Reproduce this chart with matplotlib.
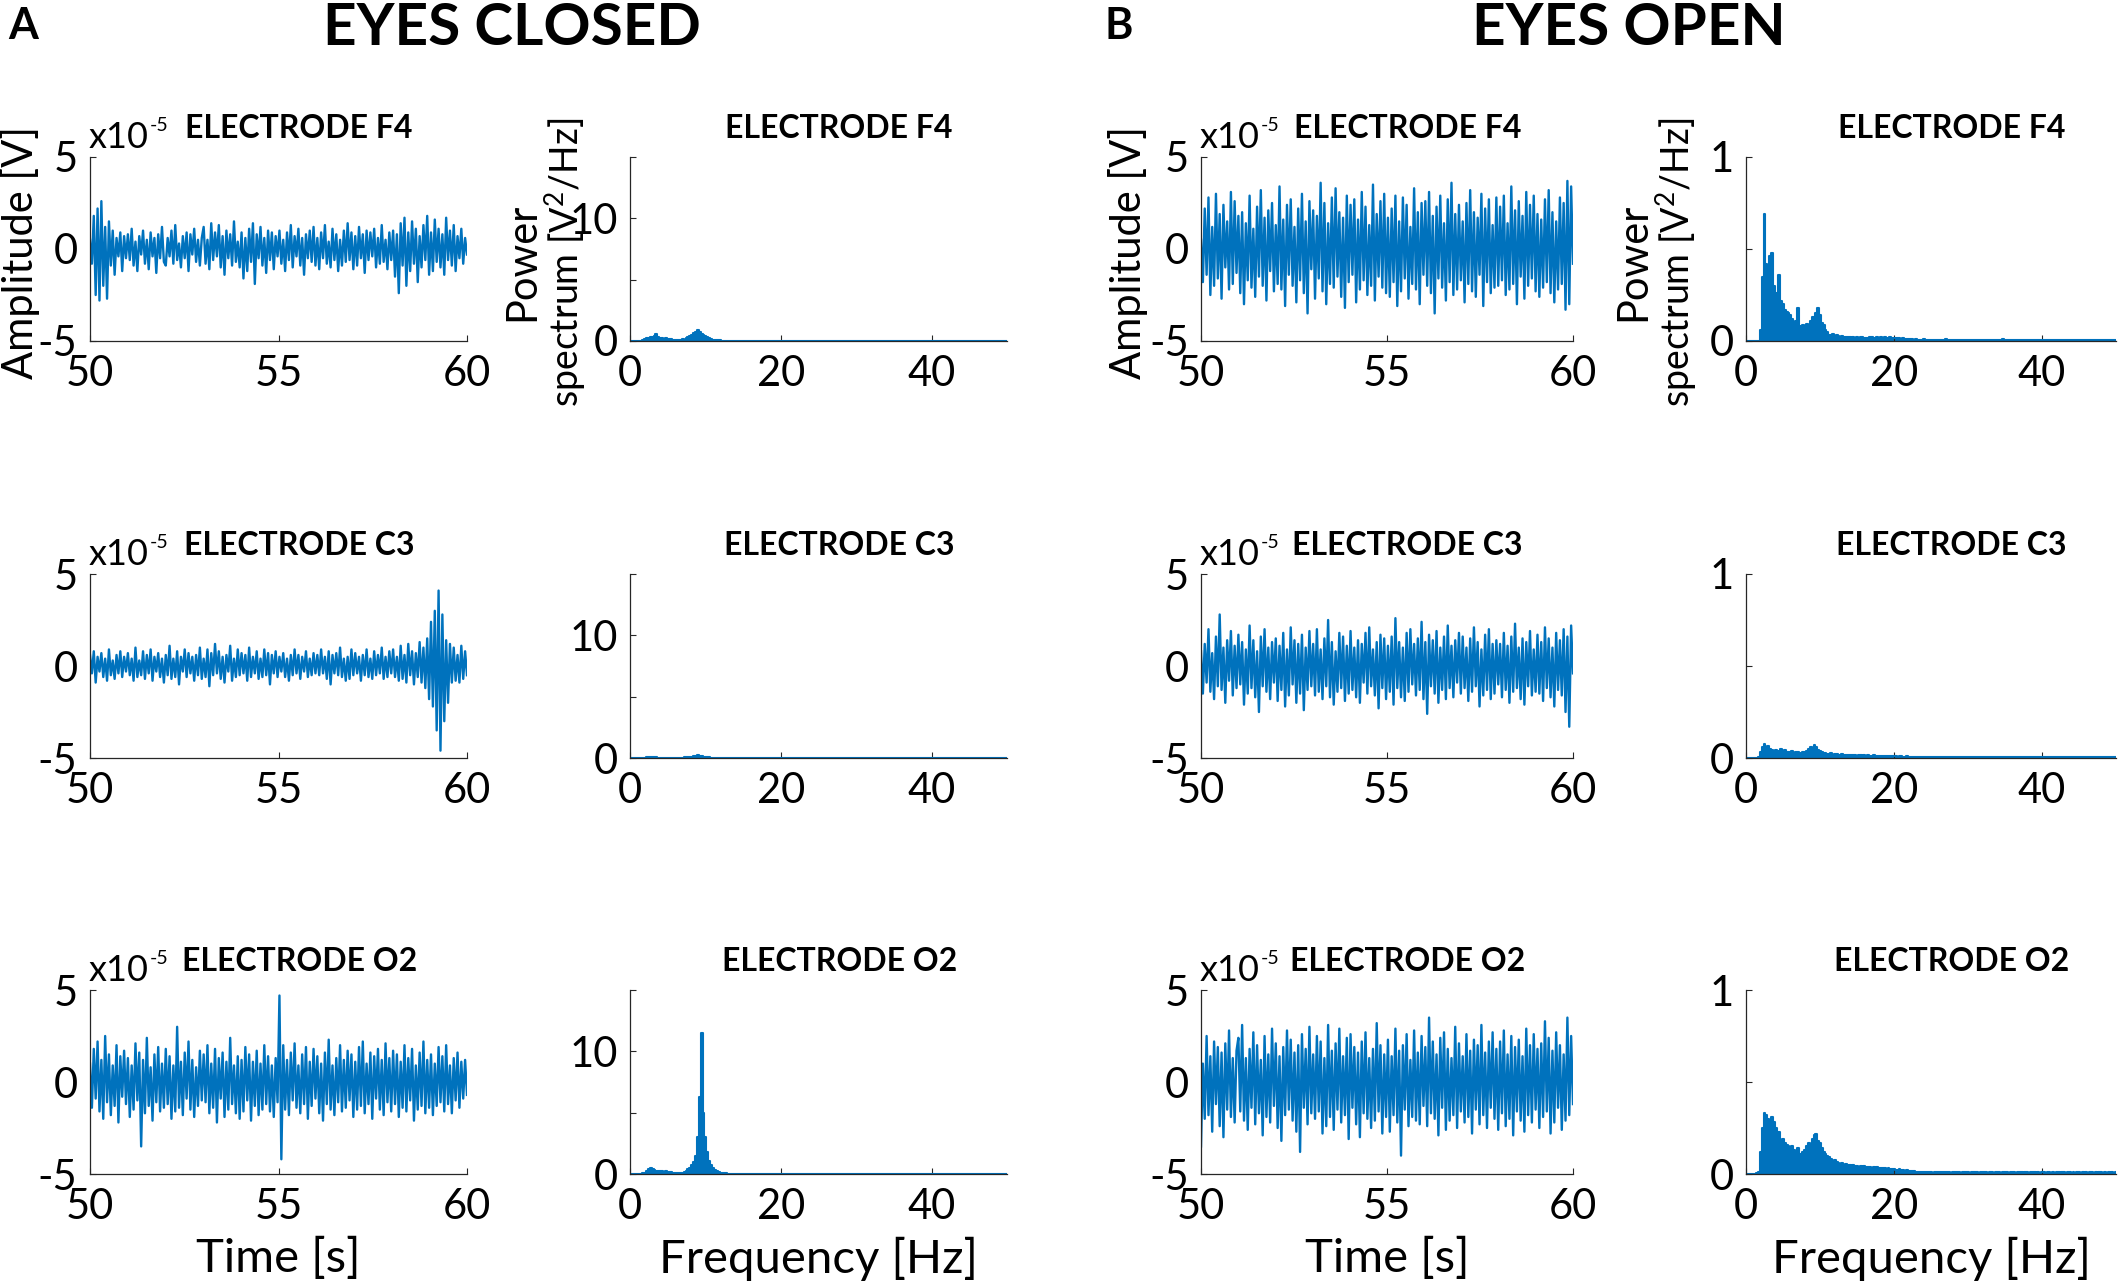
import numpy as np
import matplotlib
matplotlib.use("Agg")
import matplotlib.pyplot as plt

plt.rcParams['font.family'] = ['Lato', 'DejaVu Sans']
plt.rcParams['axes.unicode_minus'] = False
plt.rcParams['mathtext.fontset'] = 'custom'
plt.rcParams['mathtext.rm'] = 'Lato'
plt.rcParams['mathtext.it'] = 'Lato:italic'
plt.rcParams['mathtext.bf'] = 'Lato:bold'

BLUE = '#0072BD'
W, H = 2122, 1282

electrodes = ['F4', 'C3', 'O2']

# EEG traces, 50-60 s, in microvolts (axis is shown in units of 1e-5 V)
eeg_ec_f4 = [5, -8, 18, -25, 22, -28, 26, -20, 12, -27, 15, -9, 10, -14, 6, -4, 9, -12, 7, -5,
             8, -6, 11, -9, 4, -12, 7, -3, 10, -8, 5, -11, 9, -4, 6, -13, 8, -5, 12, -7,
             -9, 6, -4, 10, -8, 13, -6, 3, -10, 7, -5, 9, -12, 8, -3, 11, -7, 5, -9, 6,
             12, -8, 5, -11, 14, -6, 9, -4, 13, -10, 7, -14, 10, -5, 8, -9, 15, -7, 4, -10,
             9, -16, 6, -12, 11, -7, 14, -19, 8, -5, 12, -9, 6, -13, 10, -6, 9, -11, 7, -4,
             10, -8, 5, -12, 9, -6, 13, -10, 7, -4, 11, -9, 6, -14, 8, -5, 10, -7, 12, -9,
             6, -11, 9, -5, 13, -8, 4, -10, 11, -6, 8, -12, 5, -9, 10, -7, 14, -6, 9, -11,
             7, -9, 12, -5, 8, -13, 10, -6, 9, -4, 11, -10, 6, -8, 13, -7, 5, -11, 9, -6,
             10, -15, 8, -24, 14, -9, 17, -20, 9, -12, 15, -8, 11, -18, 7, -10, 13, -6, 18, -14,
             9, -12, 16, -7, 11, -10, 8, -14, 17, -6, 10, -9, 13, -12, 7, -5, 11, -8, 6, -3]
eeg_ec_c3 = [6, -4, 8, -9, 5, -3, 7, -6, 4, -8, 9, -5, 3, -7, 6, -4, 8, -6, 5, -3,
             7, -5, 4, -8, 10, -6, 3, -5, 8, -7, 6, -4, 9, -8, 5, -3, 7, -6, 4, -9,
             6, -5, 11, -7, 4, -6, 8, -10, 5, -3, 9, -6, 7, -4, 5, -8, 6, -5, 10, -7,
             4, -6, 9, -11, 7, -5, 12, -4, 8, -7, 5, -9, 6, -3, 11, -8, 4, -6, 9, -5,
             7, -4, 6, -8, 10, -6, 5, -4, 8, -7, 4, -6, 9, -5, 7, -10, 6, -4, 8, -6,
             5, -3, 7, -6, 4, -8, 6, -5, 9, -4, 6, -7, 5, -3, 8, -6, 4, -5, 7, -4,
             6, -5, 9, -4, 5, -7, 8, -10, 6, -4, 7, -5, 10, -6, 4, -8, 5, -7, 9, -5,
             7, -4, 5, -8, 6, -5, 9, -6, 4, -7, 8, -5, 6, -4, 10, -7, 5, -6, 8, -4,
             9, -6, 5, -8, 11, -7, 6, -9, 12, -5, 8, -10, 7, -6, 13, -9, 10, -12, 15, -18,
             24, -22, 30, -35, 41, -46, 28, -30, 14, -20, 12, -9, 10, -8, 6, -9, 11, -7, 8, -5]
eeg_ec_o2 = [10, -14, 18, -9, 22, -16, 12, -20, 25, -11, 15, -18, 9, -13, 20, -22, 14, -8, 17, -12,
             13, -19, 9, -15, 21, -10, 16, -35, 12, -17, 24, -13, 8, -21, 15, -11, 19, -16, 10, -14,
             18, -12, 14, -20, 9, -16, 30, -14, 11, -18, 16, -9, 22, -15, 12, -19, 8, -13, 17, -10,
             15, -11, 20, -17, 10, -14, 18, -22, 13, -9, 16, -19, 11, -15, 24, -12, 9, -17, 14, -20,
             12, -16, 19, -10, 15, -21, 11, -13, 17, -18, 10, -15, 20, -12, 14, -16, 9, -19, 13, -11,
             47, -42, 20, -15, 12, -18, 16, -10, 21, -14, 9, -17, 15, -12, 19, -20, 11, -13, 18, -9,
             14, -17, 10, -21, 16, -12, 23, -15, 9, -18, 13, -11, 20, -16, 12, -14, 17, -10, 15, -19,
             11, -15, 19, -13, 22, -17, 10, -12, 16, -20, 14, -9, 18, -15, 12, -18, 21, -11, 13, -16,
             17, -12, 15, -19, 11, -14, 20, -16, 13, -10, 18, -21, 9, -15, 16, -13, 22, -17, 12, -14,
             15, -18, 10, -13, 19, -11, 14, -16, 20, -12, 9, -17, 13, -10, 16, -14, 11, -9, 12, -7]
eeg_eo_f4 = [5, -18, 22, -14, 28, -25, 12, -20, 30, -16, 19, -27, 24, -10, 15, -22, 31, -19, 26, -13,
             18, -24, 20, -30, 14, -17, 29, -21, 11, -26, 23, -15, 32, -20, 17, -28, 21, -12, 25, -23,
             13, -19, 34, -22, 16, -31, 24, -14, 27, -20, 12, -29, 22, -17, 30, -24, 15, -35, 26, -11,
             21, -27, 18, -16, 36, -23, 25, -30, 14, -19, 28, -21, 33, -15, 20, -26, 17, -32, 29, -18,
             24, -14, 27, -29, 16, -22, 31, -17, 23, -25, 13, -20, 35, -28, 19, -15, 26, -21, 30, -24,
             17, -26, 22, -18, 29, -31, 15, -23, 28, -16, 24, -27, 12, -19, 33, -22, 20, -30, 25, -14,
             26, -20, 31, -24, 18, -35, 23, -16, 29, -21, 14, -28, 27, -18, 36, -25, 19, -22, 24, -17,
             15, -29, 25, -19, 32, -23, 20, -26, 17, -14, 30, -31, 22, -18, 27, -24, 13, -21, 28, -20,
             23, -17, 29, -25, 14, -22, 34, -19, 21, -30, 26, -15, 18, -27, 31, -20, 24, -16, 29, -23,
             19, -26, 16, -21, 27, -18, 32, -24, 20, -29, 15, -22, 28, -19, 25, -33, 37, -30, 34, -8]
eeg_eo_c3 = [8, -15, 12, -9, 20, -14, 7, -18, 16, -11, 28, -13, 10, -20, 14, -8, 19, -16, 11, -12,
             17, -10, 13, -21, 9, -15, 22, -12, 14, -17, 8, -25, 16, -11, 20, -14, 10, -18, 13, -9,
             15, -19, 11, -13, 18, -22, 9, -16, 21, -10, 14, -20, 12, -15, 17, -24, 10, -13, 19, -11,
             12, -16, 20, -14, 9, -18, 15, -11, 25, -17, 13, -21, 8, -14, 18, -12, 16, -19, 11, -15,
             19, -13, 10, -17, 14, -20, 12, -9, 18, -15, 21, -11, 9, -16, 13, -23, 17, -12, 15, -18,
             11, -14, 16, -21, 26, -12, 13, -17, 10, -19, 18, -14, 20, -10, 12, -16, 15, -13, 24, -18,
             13, -26, 17, -11, 14, -15, 19, -20, 10, -13, 16, -18, 22, -12, 11, -17, 14, -9, 18, -15,
             16, -12, 10, -19, 15, -14, 21, -11, 13, -22, 9, -16, 17, -13, 20, -18, 12, -15, 14, -10,
             12, -17, 18, -13, 11, -20, 16, -14, 23, -12, 10, -18, 15, -21, 13, -11, 19, -16, 9, -14,
             17, -15, 13, -19, 21, -12, 15, -17, 10, -22, 18, -13, 14, -16, 20, -25, 16, -33, 22, -4]
eeg_eo_o2 = [-35, 10, -20, 25, -18, 14, -27, 22, -12, 19, -24, 16, -30, 21, -15, 28, -19, 13, -22, 17,
             24, -16, 31, -21, 13, -26, 18, -14, 27, -23, 20, -17, 12, -29, 25, -19, 15, -22, 29, -13,
             21, -25, 14, -32, 19, -18, 28, -15, 23, -21, 16, -27, 20, -38, 26, -14, 18, -23, 30, -17,
             15, -20, 25, -16, 22, -28, 13, -24, 31, -19, 17, -26, 21, -15, 29, -22, 14, -18, 24, -31,
             26, -14, 19, -23, 16, -30, 22, -17, 27, -20, 13, -25, 18, -21, 32, -16, 20, -28, 15, -19,
             23, -27, 14, -18, 29, -22, 17, -40, 20, -15, 26, -24, 12, -19, 28, -21, 16, -23, 25, -13,
             19, -24, 35, -17, 22, -20, 15, -29, 24, -14, 27, -26, 18, -21, 13, -18, 30, -25, 21, -16,
             14, -22, 26, -19, 17, -28, 23, -15, 20, -23, 31, -18, 16, -25, 22, -14, 27, -20, 18, -26,
             22, -17, 28, -24, 15, -20, 25, -29, 19, -16, 23, -21, 14, -27, 29, -18, 20, -22, 26, -15,
             18, -25, 21, -19, 33, -16, 24, -28, 17, -22, 27, -14, 20, -26, 15, -21, 35, -18, 25, -12]

# power spectra, 0-50 Hz in 0.25 Hz steps
# eyes closed in units of 0.01 V^2/Hz, eyes open in units of 0.001 V^2/Hz
psd_ec_f4 = [2, 2, 2, 3, 2, 3, 3, 5, 15, 22, 28, 35, 30, 38, 55, 32, 28, 24, 20, 22,
             18, 16, 14, 12, 10, 12, 9, 11, 16, 12, 22, 30, 38, 50, 62, 75, 88, 70, 58, 46,
             40, 35, 28, 20, 12, 8, 6, 5, 5, 4, 4, 3, 3, 3, 3, 3,
             3, 2, 3, 3, 2, 3, 2, 2, 3, 2, 2, 3, 2, 2, 2, 3, 2, 2, 2, 2,
             3, 2, 2, 2, 2, 2, 3, 2, 2, 2, 2, 2, 2, 2, 3, 2, 2, 2, 2, 2,
             2, 2, 3, 2, 2, 2, 2, 2, 2, 2, 2, 2, 2, 2, 2, 3, 2, 2, 2, 2,
             2, 2, 2, 2, 2, 2, 2, 3, 2, 2, 2, 2, 2, 2, 2, 2, 2, 2, 2, 3,
             2, 2, 2, 2, 2, 2, 2, 2, 2, 2, 2, 3, 2, 2, 2, 2, 2, 2, 2, 2,
             2, 2, 2, 2, 2, 2, 3, 2, 2, 2, 2, 2, 2, 2, 2, 2, 2, 2, 2, 2,
             2, 3, 2, 2, 2, 2, 2, 2, 2, 2, 2, 2, 2, 2, 2, 2, 2, 3, 2, 2,
             2, 2, 2, 2, 2]
psd_ec_c3 = [1, 1, 1, 2, 2, 2, 3, 3, 4, 5, 6, 5, 7, 6, 5, 4, 4, 3, 4, 3,
             3, 3, 2, 3, 3, 2, 3, 3, 4, 5, 6, 8, 10, 12, 15, 18, 22, 20, 14, 10,
             8, 6, 5, 4, 3, 3, 2, 2, 2, 2, 2, 2, 1, 2, 1, 2,
             2, 1, 2, 2, 1, 2, 1, 1, 2, 1, 1, 2, 1, 1, 1, 2, 1, 1, 1, 1,
             2, 1, 1, 1, 1, 1, 2, 1, 1, 1, 1, 1, 1, 1, 2, 1, 1, 1, 1, 1,
             1, 1, 2, 1, 1, 1, 1, 1, 1, 1, 1, 1, 1, 1, 1, 2, 1, 1, 1, 1,
             1, 1, 1, 1, 1, 1, 1, 2, 1, 1, 1, 1, 1, 1, 1, 1, 1, 1, 1, 2,
             1, 1, 1, 1, 1, 1, 1, 1, 1, 1, 1, 2, 1, 1, 1, 1, 1, 1, 1, 1,
             1, 1, 1, 1, 1, 1, 2, 1, 1, 1, 1, 1, 1, 1, 1, 1, 1, 1, 1, 1,
             1, 2, 1, 1, 1, 1, 1, 1, 1, 1, 1, 1, 1, 1, 1, 1, 1, 2, 1, 1,
             1, 1, 1, 1, 1]
psd_ec_o2 = [2, 2, 3, 3, 3, 4, 4, 6, 12, 25, 40, 48, 42, 35, 28, 24, 22, 25, 20, 22,
             18, 20, 14, 10, 8, 6, 7, 8, 10, 14, 25, 40, 50, 70, 100, 150, 300, 630, 1150, 500,
             300, 180, 110, 70, 50, 35, 25, 15, 10, 8, 6, 5, 4, 4, 3, 3,
             3, 2, 3, 2, 2, 3, 2, 3, 2, 2, 3, 2, 2, 2, 3, 2, 2, 3, 2, 2,
             2, 3, 2, 2, 2, 2, 3, 2, 2, 2, 2, 3, 2, 2, 2, 2, 2, 3, 2, 2,
             2, 2, 2, 3, 2, 2, 2, 2, 2, 2, 3, 2, 2, 2, 2, 2, 2, 2, 3, 2,
             2, 2, 2, 2, 2, 3, 2, 2, 2, 2, 2, 2, 2, 2, 3, 2, 2, 2, 2, 2,
             2, 2, 3, 2, 2, 2, 2, 2, 2, 2, 2, 2, 2, 3, 2, 2, 2, 2, 2, 2,
             2, 2, 2, 2, 2, 3, 2, 2, 2, 2, 2, 2, 2, 2, 2, 2, 3, 2, 2, 2,
             2, 2, 2, 2, 2, 2, 2, 2, 3, 2, 2, 2, 2, 2, 2, 2, 2, 2, 2, 2,
             3, 2, 2, 2, 2]
psd_eo_f4 = [0, 0, 0, 0, 0, 0, 1, 2, 60, 350, 690, 420, 330, 460, 480, 300, 260, 250, 360, 220,
             200, 170, 160, 150, 140, 120, 100, 110, 180, 80, 75, 85, 80, 90, 85, 110, 130, 120, 150, 180,
             140, 100, 85, 60, 50, 35, 30, 40, 25, 30, 28, 22, 25, 20, 24, 22,
             20, 18, 22, 19, 21, 17, 20, 23, 18, 19, 16, 20, 22, 18, 19, 21, 17, 20, 18, 22,
             19, 16, 20, 18, 17, 15, 18, 14, 12, 15, 11, 13, 10, 12, 9, 8, 10,
             7, 8, 6, 9, 7, 6, 8, 7, 5, 7, 6, 8, 7, 6, 7, 9, 6, 7, 5, 6,
             7, 6, 8, 5, 7, 6, 6, 7, 5, 8, 6, 7, 6, 5, 7, 6, 8, 6, 5, 6,
             7, 5, 6, 7, 6, 5, 9, 6, 7, 5, 6, 6, 7, 5, 6, 8, 6, 5, 7, 6,
             5, 6, 7, 6, 5, 6, 5, 7, 6, 5, 6, 8, 5, 6, 5, 7, 6, 5, 6, 6,
             5, 7, 6, 5, 6, 5, 6, 7, 5, 6, 5, 6, 5, 7, 6, 5, 6, 5, 8, 6,
             5, 6, 5, 6, 5, 7, 5, 6]
psd_eo_c3 = [0, 0, 0, 0, 0, 1, 2, 5, 30, 60, 75, 55, 65, 50, 45, 40, 45, 35, 40, 50,
             38, 42, 35, 30, 32, 40, 28, 30, 35, 25, 22, 30, 35, 40, 50, 60, 55, 70, 62, 45,
             40, 30, 25, 28, 22, 20, 25, 18, 20, 22, 18, 15, 20, 16, 18, 15,
             15, 18, 14, 16, 12, 15, 17, 13, 14, 12, 15, 11, 13, 14, 12, 10, 13, 11, 12, 10,
             12, 9, 11, 10, 12, 9, 8, 10, 9, 7, 8, 9, 7, 8, 6, 7, 6,
             5, 4, 5, 6, 4, 5, 4, 5, 4, 6, 4, 5, 4, 4, 5, 4, 6, 4, 5, 4,
             4, 5, 4, 4, 5, 4, 4, 6, 4, 4, 5, 4, 4, 4, 5, 4, 4, 5, 4, 4,
             5, 4, 4, 4, 5, 4, 4, 4, 4, 5, 4, 4, 4, 6, 4, 4, 4, 5, 4, 4,
             4, 4, 5, 4, 4, 4, 4, 5, 4, 4, 4, 4, 4, 5, 4, 4, 4, 4, 5, 4,
             4, 4, 4, 5, 4, 4, 4, 4, 4, 4, 5, 4, 4, 4, 4, 5, 4, 4, 4, 4,
             4, 5, 4, 4, 4, 4, 5, 4]
psd_eo_o2 = [0, 0, 0, 0, 0, 1, 3, 10, 120, 250, 330, 320, 300, 260, 310, 280, 250, 200, 230, 180,
             190, 170, 160, 150, 140, 150, 130, 120, 140, 110, 100, 120, 130, 150, 170, 160, 190, 210, 220, 180,
             170, 140, 120, 110, 100, 90, 80, 70, 75, 65, 60, 55, 58, 50, 52, 48,
             50, 45, 48, 42, 46, 40, 44, 38, 42, 39, 36, 40, 35, 38, 34, 37, 33, 35, 30, 32,
             28, 30, 26, 28, 25, 24, 22, 25, 20, 22, 18, 20, 16, 18, 15, 14, 13,
             10, 11, 9, 12, 10, 9, 11, 10, 8, 10, 9, 11, 10, 9, 10, 12, 9, 10, 8, 9,
             10, 9, 11, 8, 10, 9, 9, 10, 8, 11, 9, 10, 9, 8, 10, 9, 11, 9, 8, 9,
             10, 8, 9, 10, 9, 8, 11, 9, 10, 8, 9, 9, 10, 8, 9, 11, 9, 8, 10, 9,
             8, 9, 10, 9, 8, 9, 8, 10, 9, 8, 9, 11, 8, 9, 8, 10, 9, 8, 9, 9,
             8, 10, 9, 8, 9, 8, 9, 10, 8, 9, 8, 9, 8, 10, 9, 8, 9, 8, 11, 9,
             8, 9, 8, 9, 8, 10, 8, 9]

eeg_closed = [eeg_ec_f4, eeg_ec_c3, eeg_ec_o2]
eeg_open = [eeg_eo_f4, eeg_eo_c3, eeg_eo_o2]
psd_closed = [np.array(p) / 100 for p in (psd_ec_f4, psd_ec_c3, psd_ec_o2)]
psd_open = [np.array(p) / 1000 for p in (psd_eo_f4, psd_eo_c3, psd_eo_o2)]

fig = plt.figure(figsize=(W / 100, H / 100), dpi=100)

col_left = [90, 630, 1201, 1746]
col_width = [377, 377, 372, 370]
row_top = [157, 574, 990]
ax_h = 184


def make_ax(r, c):
    return fig.add_axes([col_left[c] / W, 1 - (row_top[r] + ax_h) / H,
                         col_width[c] / W, ax_h / H])


def style(ax):
    for s in ['top', 'right']:
        ax.spines[s].set_visible(False)
    for s in ['left', 'bottom']:
        ax.spines[s].set_color('#262626')
        ax.spines[s].set_linewidth(0.9)
    ax.tick_params(direction='in', length=4, width=0.8, color='#262626',
                   labelcolor='black', labelsize=30)
    ax.tick_params(axis='x', pad=10)
    ax.tick_params(axis='y', pad=9)


def add_title(ax, name):
    ax.text(0.555, 1 + 19 / ax_h, 'ELECTRODE ' + name, transform=ax.transAxes,
            ha='center', va='baseline', fontsize=23, fontweight='bold')


def time_panel(r, c, trace):
    ax = make_ax(r, c)
    style(ax)
    t = np.linspace(50, 60, len(trace))
    ax.plot(t, np.array(trace) / 10, color=BLUE, lw=1.7)
    ax.set_xlim(50, 60)
    ax.set_ylim(-5, 5)
    ax.set_xticks([50, 55, 60])
    ax.set_yticks([-5, 0, 5])
    add_title(ax, electrodes[r])
    ex = ax.text(-0.005, 1 + 9 / ax_h, 'x10', transform=ax.transAxes,
                 ha='left', va='baseline', fontsize=26)
    ax.annotate('-5', xy=(1, 1), xycoords=ex, xytext=(1, 3), textcoords='offset points',
                ha='left', va='top', fontsize=14)
    return ax


def psd_panel(r, c, psd, top):
    ax = make_ax(r, c)
    style(ax)
    f = np.linspace(0, 50, len(psd))
    ax.fill_between(f, 0, psd, step='mid', color=BLUE, lw=0)
    ax.plot(f, psd, drawstyle='steps-mid', color=BLUE, lw=1.5)
    ax.set_xlim(0, 50)
    ax.set_ylim(0, top)
    ax.set_xticks([0, 20, 40])
    if top > 1:
        ax.set_yticks([0, 5, 10, 15])
        ax.set_yticklabels(['0', '', '10', ''])
    else:
        ax.set_yticks([0, 0.5, 1])
        ax.set_yticklabels(['0', '', '1'])
    add_title(ax, electrodes[r])
    return ax


def psd_ylabel(ax, x_power, x_spec):
    ax.text(x_power, 0.43, 'Power', transform=ax.transAxes, rotation=90,
            rotation_mode='anchor', ha='center', va='center', fontsize=30)
    ax.text(x_spec, 0.43, 'spectrum [V$^2$/Hz]', transform=ax.transAxes, rotation=90,
            rotation_mode='anchor', ha='center', va='center', fontsize=27)


for r in range(3):
    a1 = time_panel(r, 0, eeg_closed[r])
    a2 = psd_panel(r, 1, psd_closed[r], 15)
    a3 = time_panel(r, 2, eeg_open[r])
    a4 = psd_panel(r, 3, psd_open[r], 1)
    if r == 0:
        a1.set_ylabel('Amplitude [V]', fontsize=30, va='center')
        a1.yaxis.set_label_coords(-0.185, 0.48)
        a3.set_ylabel('Amplitude [V]', fontsize=30, va='center')
        a3.yaxis.set_label_coords(-0.196, 0.48)
        psd_ylabel(a2, -0.285, -0.172)
        psd_ylabel(a4, -0.306, -0.188)
    if r == 2:
        for ax, lab in [(a1, 'Time [s]'), (a2, 'Frequency [Hz]'),
                        (a3, 'Time [s]'), (a4, 'Frequency [Hz]')]:
            ax.set_xlabel(lab, fontsize=34)
            ax.xaxis.set_label_coords(0.5, -0.34)

fig.text(8 / W, 1 - 6 / H, 'A', fontsize=31, fontweight='bold', ha='left', va='top')
fig.text(1105 / W, 1 - 6 / H, 'B', fontsize=31, fontweight='bold', ha='left', va='top')
fig.text(512 / W, 1 - 2 / H, 'EYES CLOSED', fontsize=42, fontweight='bold', ha='center', va='top')
fig.text(1629 / W, 1 - 2 / H, 'EYES OPEN', fontsize=42, fontweight='bold', ha='center', va='top')

fig.savefig('out.png', dpi=100)
